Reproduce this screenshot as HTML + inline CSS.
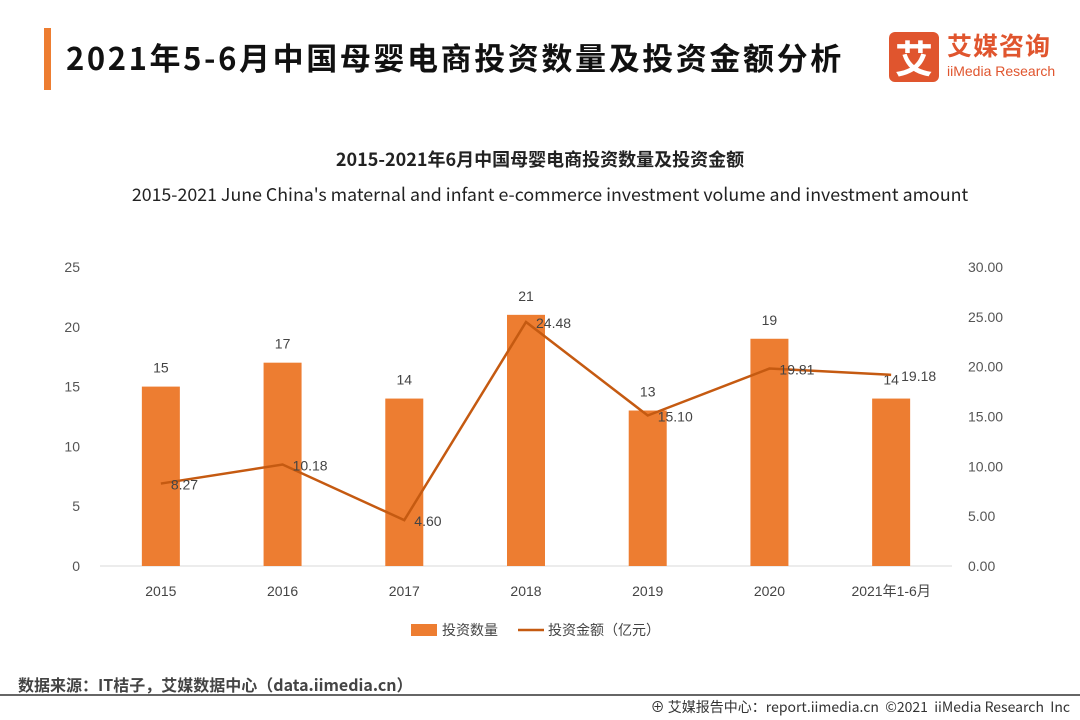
<!DOCTYPE html>
<html><head><meta charset="utf-8">
<style>
body{margin:0;width:1080px;height:720px;background:#fff;overflow:hidden;font-family:"Liberation Sans","Noto Sans CJK SC",sans-serif;position:relative}
.abs{position:absolute}
</style></head>
<body>
<div class="abs" style="left:44px;top:28px;width:7px;height:62px;background:#ed7d31"></div>
<div class="abs" style="left:66px;top:34px;font-size:31px;letter-spacing:2.6px;font-weight:bold;color:#111;font-family:'Noto Sans CJK SC',sans-serif">2021年5-6月中国母婴电商投资数量及投资金额分析</div>
<div class="abs" style="left:889px;top:32px;width:170px;height:50px">
 <div style="position:absolute;left:0;top:0;width:50px;height:50px;background:#e0552e;border-radius:6px;color:#fff;font-size:38px;line-height:50px;text-align:center;font-family:'Noto Sans CJK SC',sans-serif;font-weight:bold">艾</div>
 <div style="position:absolute;left:58px;top:-5px;font-size:25px;color:#e0552e;font-weight:bold;font-family:'Noto Sans CJK SC',sans-serif;letter-spacing:1px">艾媒咨询</div>
 <div style="position:absolute;left:58px;top:31px;font-size:14px;color:#e0552e">iiMedia Research</div>
</div>
<div class="abs" style="left:0;width:1080px;text-align:center;top:146px;font-size:18px;font-weight:bold;color:#222;font-family:'Noto Sans CJK SC',sans-serif">2015-2021年6月中国母婴电商投资数量及投资金额</div>
<div class="abs" style="left:10px;width:1080px;text-align:center;top:181px;font-size:17.8px;color:#222;font-family:'Noto Sans CJK SC',sans-serif">2015-2021 June China's maternal and infant e-commerce investment volume and investment amount</div>
<svg class="abs" style="left:0;top:0" width="1080" height="720" id="chart"></svg>
<div class="abs" style="left:18px;top:672px;font-size:16px;color:#444;font-weight:bold;font-family:'Noto Sans CJK SC',sans-serif">数据来源：IT桔子，艾媒数据中心（data.iimedia.cn）</div>
<div class="abs" style="left:0;top:694px;width:1080px;height:2px;background:#666"></div>
<div class="abs" style="right:10px;top:697px;font-size:14px;color:#333;font-family:'Noto Sans CJK SC',sans-serif">⊕ 艾媒报告中心：report.iimedia.cn &nbsp;©2021 &nbsp;iiMedia Research &nbsp;Inc</div>
<script>
const categories=["2015","2016","2017","2018","2019","2020","2021年1-6月"];
const counts=[15,17,14,21,13,19,14];
const amounts=[8.27,10.18,4.60,24.48,15.10,19.81,19.18];
const leftTicks=[0,5,10,15,20,25];
const rightTicks=["0.00","5.00","10.00","15.00","20.00","25.00","30.00"];
const svg=document.getElementById('chart');
const NS='http://www.w3.org/2000/svg';
const x0=100,x1=952,yB=566,yT=267;
const band=(x1-x0)/categories.length;
const xc=i=>x0+band*(i+0.5);
const yL=v=>yB-(v/25)*(yB-yT);
const yR=v=>yB-(v/30)*(yB-yT);
function mk(t,a){const e=document.createElementNS(NS,t);for(const k in a)e.setAttribute(k,a[k]);svg.appendChild(e);return e;}
function txt(x,y,s,anchor,size,fill){const e=mk('text',{x:x,y:y,'text-anchor':anchor,'font-size':size,fill:fill,'font-family':'Liberation Sans, Noto Sans CJK SC, sans-serif'});e.textContent=s;return e;}
const ax=mk('line',{x1:x0,y1:yB,x2:x1,y2:yB,stroke:'#d9d9d9','stroke-width':1});


leftTicks.forEach(v=>{const t=txt(80,yL(v)+5,String(v),'end',14,'#555');

});
rightTicks.forEach(v=>{const t=txt(968,yR(parseFloat(v))+5,v,'start',14,'#555');

});
categories.forEach((c,i)=>{const t=txt(xc(i),596,c,'middle',14,'#444');

});
counts.forEach((v,i)=>{const r=mk('rect',{x:xc(i)-19,y:yL(v),width:38,height:yB-yL(v),fill:'#ed7d31'});


const t=txt(xc(i),yL(v)-14,String(v),'middle',14,'#444');

});
const pts=amounts.map((v,i)=>xc(i)+','+yR(v)).join(' ');
const pl=mk('polyline',{points:pts,fill:'none',stroke:'#c55a11','stroke-width':2.5});


amounts.forEach((v,i)=>{const t=txt(xc(i)+10,yR(v)+6,v.toFixed(2),'start',14,'#444');

});
const lr=mk('rect',{x:411,y:624,width:26,height:12,fill:'#ed7d31'});


const lt1=txt(442,635,'投资数量','start',14,'#444');


const ll=mk('line',{x1:518,y1:630,x2:544,y2:630,stroke:'#c55a11','stroke-width':2.5});


const lt2=txt(548,635,'投资金额（亿元）','start',14,'#444');


</script>
</body></html>
